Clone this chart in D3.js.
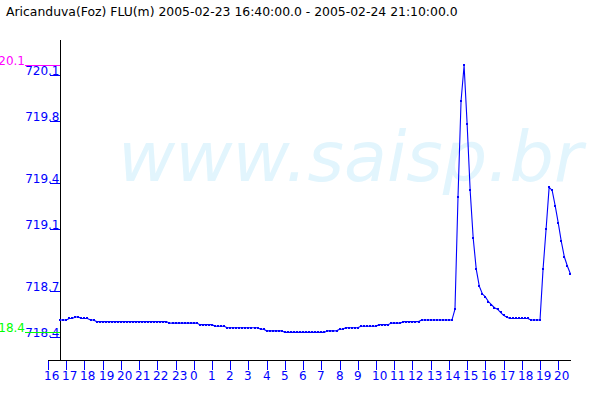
<!DOCTYPE html>
<html>
<head>
<meta charset="utf-8">
<script src="https://cdn.jsdelivr.net/npm/d3@7"></script>
<style>
  html, body { margin: 0; padding: 0; background: #ffffff; }
  svg { display: block; }
  text { font-family: "DejaVu Sans", Verdana, sans-serif; }
</style>
</head>
<body>
<svg id="chart" width="600" height="400"></svg>
<script>
// ---------------- data ----------------
const title = "Aricanduva(Foz) FLU(m) 2005-02-23 16:40:00.0 - 2005-02-24 21:10:00.0";
const watermark = "www.saisp.br";
const seriesStart = "2005-02-23T16:40:00";
const stepMinutes = 10;
// water level (m), one reading every 10 minutes from 16:40
const levels = [
  718.51, 718.51, 718.51, 718.52, 718.52, 718.53, 718.53, 718.52, 718.52, 718.52,
  718.51, 718.51, 718.50, 718.50, 718.50, 718.50, 718.50, 718.50, 718.50, 718.50,
  718.50, 718.50, 718.50, 718.50, 718.50, 718.50, 718.50, 718.50, 718.50, 718.50,
  718.50, 718.50, 718.50, 718.50, 718.50, 718.50, 718.49, 718.49, 718.49, 718.49,
  718.49, 718.49, 718.49, 718.49, 718.49, 718.49, 718.48, 718.48, 718.48, 718.48,
  718.48, 718.47, 718.47, 718.47, 718.47, 718.46, 718.46, 718.46, 718.46, 718.46,
  718.46, 718.46, 718.46, 718.46, 718.46, 718.46, 718.45, 718.45, 718.44, 718.44,
  718.44, 718.44, 718.44, 718.44, 718.43, 718.43, 718.43, 718.43, 718.43, 718.43,
  718.43, 718.43, 718.43, 718.43, 718.43, 718.43, 718.43, 718.43, 718.44, 718.44,
  718.44, 718.44, 718.45, 718.45, 718.46, 718.46, 718.46, 718.46, 718.46, 718.47,
  718.47, 718.47, 718.47, 718.47, 718.47, 718.48, 718.48, 718.48, 718.48, 718.49,
  718.49, 718.49, 718.49, 718.50, 718.50, 718.50, 718.50, 718.50, 718.50, 718.51,
  718.51, 718.51, 718.51, 718.51, 718.51, 718.51, 718.51, 718.51, 718.51, 718.51,
  718.58, 719.31, 719.93, 720.16, 719.78, 719.35, 719.04, 718.84, 718.73, 718.68,
  718.66, 718.63, 718.61, 718.59, 718.58, 718.56, 718.54, 718.53, 718.52, 718.52,
  718.52, 718.52, 718.52, 718.52, 718.52, 718.51, 718.51, 718.51, 718.51, 718.84,
  719.10, 719.37, 719.35, 719.25, 719.14, 719.02, 718.92, 718.86, 718.81
];
const yTickValues = [720.1, 719.8, 719.4, 719.1, 718.7, 718.4];
const yTickLabels = ["720.1", "719.8", "719.4", "719.1", "718.7", "718.4"];
const xDomain = ["2005-02-23T16:00:00", "2005-02-24T20:42:00"];
const yDomain = [718.251, 720.325];

// ---------------- layout ----------------
const W = 600, H = 400;
const plot = { left: 48, right: 571, top: 40, bottom: 360 };
const BLUE = "#0000ff", MAGENTA = "#ff00ff", GREEN = "#00ff00";

const parse = d3.timeParse("%Y-%m-%dT%H:%M:%S");
const t0 = parse(seriesStart);
const data = levels.map((v, i) => ({ t: d3.timeMinute.offset(t0, i * stepMinutes), v }));

const x = d3.scaleTime().domain(xDomain.map(parse)).range([plot.left, plot.right]);
const y = d3.scaleLinear().domain(yDomain).range([plot.bottom, plot.top]);

const svg = d3.select("#chart");

// watermark
svg.append("text")
  .attr("x", 118).attr("y", 181)
  .attr("font-size", 70)
  .attr("font-style", "oblique")
  .attr("fill", "#e2f5fd")
  .text(watermark);

// title
svg.append("text")
  .attr("x", 6).attr("y", 16)
  .attr("font-size", 12.4)
  .attr("fill", "#000")
  .text(title);

const yAxisX = Math.round(x(t0));

// x ticks (hourly)
const hours = d3.timeHour.range(x.domain()[0], d3.timeMinute.offset(x.domain()[1], 1));
const gx = svg.append("g");
gx.selectAll("line").data(hours).join("line")
  .attr("x1", d => Math.round(x(d)) + 0.5).attr("x2", d => Math.round(x(d)) + 0.5)
  .attr("y1", plot.bottom).attr("y2", plot.bottom + 10)
  .attr("stroke", BLUE).attr("stroke-width", 1);
gx.selectAll("text").data(hours).join("text")
  .attr("x", d => Math.round(x(d)) - 4)
  .attr("y", plot.bottom + 19.5)
  .attr("font-size", 12)
  .attr("fill", BLUE)
  .text(d => d3.timeFormat("%-H")(d));

// y ticks
const gy = svg.append("g");
gy.selectAll("line").data(yTickValues).join("line")
  .attr("x1", yAxisX - 10).attr("x2", yAxisX)
  .attr("y1", d => Math.round(y(d)) + 0.5).attr("y2", d => Math.round(y(d)) + 0.5)
  .attr("stroke", BLUE);
gy.selectAll("text").data(yTickLabels).join("text")
  .attr("x", yAxisX - 0.5)
  .attr("y", (d, i) => Math.round(y(yTickValues[i])))
  .attr("text-anchor", "end")
  .attr("font-size", 12)
  .attr("fill", BLUE)
  .text(d => d);

// max / min reference marks (labels clipped at the left edge as in the original)
const vMax = d3.max(levels), vMin = d3.min(levels);
const trunc1 = v => (Math.floor(v * 10 + 1e-9) / 10).toFixed(1);
[[vMax, MAGENTA], [vMin, GREEN]].forEach(([v, c]) => {
  const yy = Math.round(y(v)) + 0.5;
  svg.append("line")
    .attr("x1", 25).attr("x2", yAxisX).attr("y1", yy).attr("y2", yy)
    .attr("stroke", c);
  svg.append("text")
    .attr("x", 25).attr("y", yy - 0.5)
    .attr("text-anchor", "end")
    .attr("font-size", 12)
    .attr("fill", c)
    .text(trunc1(v));
});

// axes lines
svg.append("line")
  .attr("x1", plot.left).attr("x2", plot.right)
  .attr("y1", plot.bottom + 0.5).attr("y2", plot.bottom + 0.5)
  .attr("stroke", "#000");
svg.append("line")
  .attr("x1", yAxisX + 0.5).attr("x2", yAxisX + 0.5)
  .attr("y1", plot.top).attr("y2", plot.bottom)
  .attr("stroke", "#000");

// data line
const line = d3.line().x(d => x(d.t)).y(d => y(d.v));
svg.append("path")
  .datum(data)
  .attr("d", line)
  .attr("fill", "none")
  .attr("stroke", BLUE)
  .attr("stroke-width", 1.1);

svg.append("g").selectAll("rect").data(data).join("rect")
  .attr("x", d => Math.round(x(d.t)) - 1)
  .attr("y", d => Math.round(y(d.v)) - 1)
  .attr("width", 2).attr("height", 2)
  .attr("fill", BLUE)
  .attr("shape-rendering", "crispEdges");
</script>
</body>
</html>
